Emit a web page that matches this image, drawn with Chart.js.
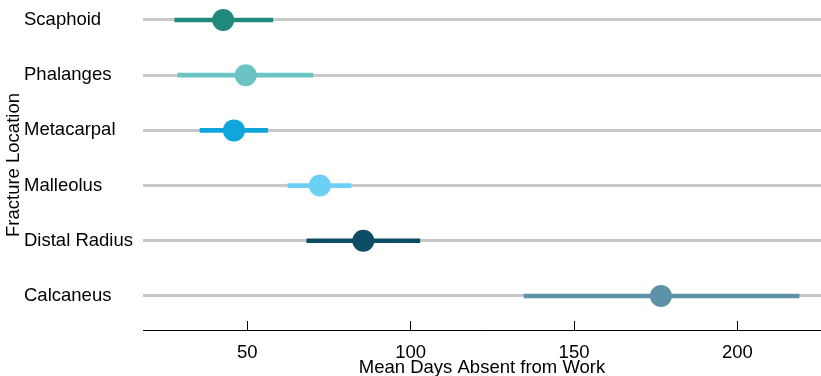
<!DOCTYPE html>
<html>
<head>
<meta charset="utf-8">
<script src="https://cdn.jsdelivr.net/npm/chart.js@4/dist/chart.umd.min.js"></script>
<style>
  html, body { margin: 0; padding: 0; background: #fff; }
  #wrap { width: 821px; height: 376px; }
</style>
</head>
<body>
<div id="wrap"><canvas id="chart"></canvas></div>
<script>
// ── Data ───────────────────────────────────────────────────────────────
const LOCATIONS = ['Scaphoid', 'Phalanges', 'Metacarpal', 'Malleolus', 'Distal Radius', 'Calcaneus'];
const MEAN_DAYS = [42.6, 49.5, 45.9, 72.2, 85.5, 176.6];
const CI_LOW    = [27.8, 28.7, 35.5, 62.4, 68.2, 134.7];
const CI_HIGH   = [57.8, 70.1, 56.2, 81.7, 102.8, 218.9];
const COLORS    = ['#1f8a7c', '#6cc3c3', '#10a5dc', '#6ccff4', '#0e4c66', '#5e92a8'];
const X_TICKS   = [50, 100, 150, 200];

const FONT = { family: "'Liberation Sans', Arial, Helvetica, sans-serif", size: 18.5 };
const ROWS = LOCATIONS.map((_, i) => i);

// no extra side padding from edge labels
const noPad = s => { s.paddingLeft = 0; s.paddingRight = 0; s.paddingTop = 0; s.paddingBottom = 0; };

new Chart(document.getElementById('chart'), {
  data: {
    datasets: [
      {
        // intervals
        type: 'bar',
        indexAxis: 'y',
        data: ROWS.map(i => ({ x: [CI_LOW[i], CI_HIGH[i]], y: i })),
        backgroundColor: COLORS,
        borderWidth: 0,
        barThickness: 4,
        order: 2,
      },
      {
        // means
        type: 'scatter',
        data: ROWS.map(i => ({ x: MEAN_DAYS[i], y: i })),
        backgroundColor: COLORS,
        borderWidth: 0,
        pointRadius: 11,
        pointHoverRadius: 11,
        order: 1,
      },
    ],
  },
  options: {
    responsive: true,
    maintainAspectRatio: false,
    animation: false,
    layout: { padding: 0, autoPadding: false },
    plugins: { legend: { display: false }, tooltip: { enabled: false } },
    scales: {
      x: {
        type: 'linear',
        position: 'bottom',
        min: 18.06,
        max: 225.6,
        offset: false,
        afterBuildTicks: s => { s.ticks = X_TICKS.map(v => ({ value: v })); },
        afterFit: s => { s.height = 46; noPad(s); },
        grid: { drawOnChartArea: false, drawTicks: true, tickLength: -9, color: '#000', lineWidth: 1, offset: false },
        border: { display: true, color: '#000', width: 1 },
        ticks: { color: '#000', font: FONT, padding: 21, maxRotation: 0 },
        title: { display: true, text: 'Mean Days Absent from Work', color: '#000', font: FONT, padding: { top: 0, bottom: -3 } },
      },
      y: {
        type: 'linear',
        position: 'left',
        reverse: true,
        min: -0.362,
        max: 5.616,
        offset: false,
        weight: 0,
        afterBuildTicks: s => { s.ticks = ROWS.map(v => ({ value: v })); },
        afterFit: s => { s.width = 119; noPad(s); },
        grid: { color: '#c8c8c8', lineWidth: 3, drawTicks: false, offset: false },
        border: { display: false },
        ticks: {
          color: '#000', font: FONT, crossAlign: 'far', padding: 0,
          callback: v => LOCATIONS[v],
        },
      },
      yTitle: {
        type: 'linear',
        position: 'left',
        weight: 1,
        afterFit: s => { s.width = 24; noPad(s); },
        grid: { display: false },
        border: { display: false },
        ticks: { display: false },
        title: { display: true, text: 'Fracture Location', color: '#000', font: FONT, padding: { top: 3, bottom: 0 } },
      },
    },
  },
});
</script>
</body>
</html>
